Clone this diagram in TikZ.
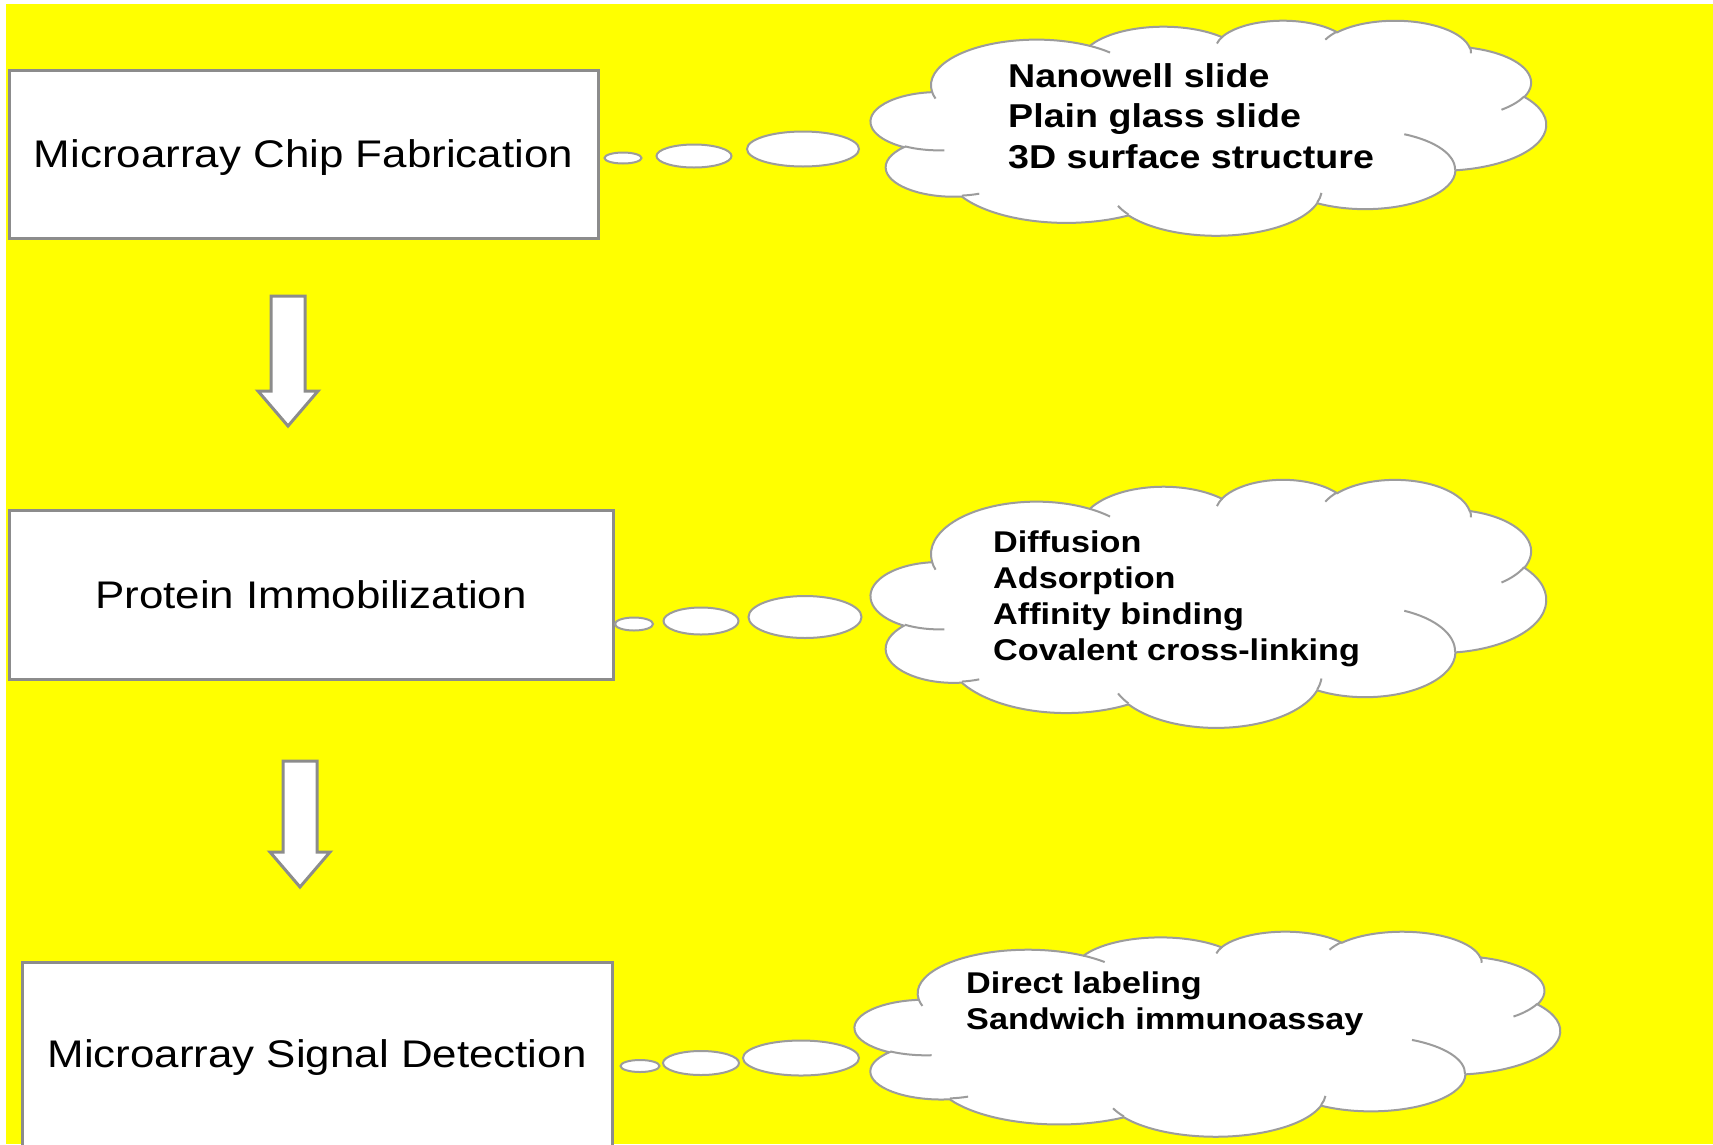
\documentclass[tikz,border=0pt]{standalone}
\usepackage{fontspec}
\setmainfont{Liberation Sans}
\newfontfamily\widesans[FakeStretch=1.14]{Liberation Sans}
\usetikzlibrary{shapes.geometric}
\definecolor{bg}{HTML}{FFFF00}
\definecolor{edge}{HTML}{8C8C8C}
\definecolor{puffedge}{HTML}{9C9C9C}
% one lobe of the thought cloud: name, x radius, y radius, start and sweep angle
\newcommand{\setpuff}[5]{%
  \pgfmathparse{atan2((#2)*sin(#4),(#3)*cos(#4))}\let\pfa\pgfmathresult
  \pgfmathparse{atan2((#2)*sin((#4)+(#5)),(#3)*cos((#4)+(#5)))}\let\pfb\pgfmathresult
  \pgfmathparse{mod((\pfb)-(\pfa)+720,360)}\let\pfd\pgfmathresult
  \expandafter\xdef\csname #1\endcsname{arc[start angle=\pfa,delta angle=\pfd,x radius=#2,y radius=#3]}}
\setpuff{puffa}{67.53}{91.90}{-190.4875}{123.7805}
\setpuff{puffb}{53.33}{72.67}{-144.1024}{89.9452}
\setpuff{puffc}{43.65}{59.45}{-145.8079}{99.7230}
\setpuff{puffd}{48.57}{65.95}{-130.9861}{117.2417}
\setpuff{puffe}{53.33}{72.73}{-78.7089}{109.0269}
\setpuff{pufff}{67.75}{92.20}{-46.2673}{130.2690}
\setpuff{puffg}{57.85}{78.67}{0.6250}{114.0333}
\setpuff{puffh}{67.52}{92.15}{22.4516}{115.1726}
\setpuff{puffi}{77.20}{105.43}{66.2426}{75.7110}
\setpuff{puffj}{43.60}{59.18}{-274.9421}{146.7356}
\setpuff{puffk}{43.45}{59.45}{-246.8285}{152.5189}
\setpuff{creasea}{43.45}{59.45}{86.7420}{26.4295}
\setpuff{creaseb}{43.60}{59.18}{73.6105}{11.4475}
\setpuff{creasec}{67.52}{92.15}{137.6242}{14.0811}
\setpuff{creased}{67.52}{92.15}{6.4533}{15.9984}
\setpuff{creasee}{57.85}{78.67}{-70.2924}{70.9174}
\setpuff{creasef}{53.33}{72.73}{30.3180}{27.7515}
\setpuff{creaseg}{48.57}{65.95}{-13.7443}{14.8589}
\setpuff{creaseh}{48.57}{65.95}{-149.1815}{18.1954}
\setpuff{creasei}{43.65}{59.45}{-163.4943}{17.6864}
\setpuff{creasej}{67.53}{91.90}{-66.7070}{12.3194}
\setpuff{creasek}{67.53}{91.90}{157.6544}{11.8582}
% whole cloud in the box x, y, width, height
\newcommand{\thoughtcloud}[4]{%
  \begin{scope}[shift={(#1,#2)},xscale=#3/432,yscale=#4/432]
    \draw[thought] (39,143.7) \puffa\puffb\puffc\puffd\puffe\pufff\puffg\puffh\puffi\puffj\puffk -- cycle;
    \draw[crease] (46.93,261.77) \creasea (69.28,348.99) \creaseb (164.78,390.9) \creasec
      (288.27,347.51) \creased (341.29,229.54) \creasee (417.98,153.54) \creasef
      (383.24,54.26) \creaseg (290.78,39.52) \creaseh (221.41,47.2) \creasei
      (140,51.92) \creasej (41.27,157.89) \creasek;
  \end{scope}}
\begin{document}
\begin{tikzpicture}[x=1pt,y=-1pt,
  stage/.style={draw=edge,line width=3pt,fill=white,inner sep=0pt,text height=27.6pt,text depth=0pt,font=\widesans\fontsize{38.5}{44}\selectfont},
  thought/.style={draw=puffedge,line width=2pt,fill=white},
  crease/.style={draw=puffedge,line width=2pt},
  bubble/.style={ellipse,draw=puffedge,line width=2pt,fill=white,inner sep=0pt},
  notes/.style={anchor=north west,align=left,inner sep=0pt,font=\widesans\bfseries\fontsize{30}{36}\selectfont},
  flow/.style={draw=edge,line width=3pt,fill=white,line join=miter}]
  \useasboundingbox (0,0) rectangle (1713,1144);
  \clip (0,0) rectangle (1713,1144);
  \fill[white] (0,0) rectangle (1713,1144);
  \fill[bg] (6,4) rectangle (1713,1144);
  % left column: the three stages
  \node[stage,minimum width=589,minimum height=168] (chip) at (303.5,154) {Microarray Chip Fabrication};
  \node[stage,minimum width=604,minimum height=169] (immob) at (311,594.5) {Protein Immobilization};
  \node[stage,minimum width=590,minimum height=184] (detect) at (317,1054) {Microarray Signal Detection};
  % block arrows between the stages
  \draw[flow] (271,296) -- (305,296) -- (305,391) -- (318,391) -- (288,426) -- (258,391) -- (271,391) -- cycle;
  \draw[flow] (283,761) -- (317,761) -- (317,852) -- (330,852) -- (300,887) -- (270,852) -- (283,852) -- cycle;
  % thought clouds
  \thoughtcloud{871}{20}{675}{215}
  \thoughtcloud{871}{479}{675}{248}
  \thoughtcloud{855}{931}{705}{205}
  \node[notes,font=\widesans\bfseries\fontsize{33}{40.5}\selectfont] (n1) at (1008,63) {Nanowell slide\\Plain glass slide\\3D surface structure};
  \node[notes] (n2) at (993,530.6) {Diffusion\\Adsorption\\Affinity binding\\Covalent cross-linking};
  \node[notes] (n3) at (966,972) {Direct labeling\\Sandwich immunoassay};
  % bubbles trailing from each stage
  \node[bubble,minimum width=37,minimum height=11] (b1a) at (623,158) {};
  \node[bubble,minimum width=75,minimum height=23] (b1b) at (694,156) {};
  \node[bubble,minimum width=112,minimum height=35] (b1c) at (803,149) {};
  \node[bubble,minimum width=38,minimum height=13] (b2a) at (634,624) {};
  \node[bubble,minimum width=75,minimum height=27] (b2b) at (701,621) {};
  \node[bubble,minimum width=113,minimum height=42] (b2c) at (805,617) {};
  \node[bubble,minimum width=39,minimum height=12] (b3a) at (640,1066) {};
  \node[bubble,minimum width=76,minimum height=24] (b3b) at (701,1063) {};
  \node[bubble,minimum width=116,minimum height=35] (b3c) at (801,1058) {};
\end{tikzpicture}
\end{document}
